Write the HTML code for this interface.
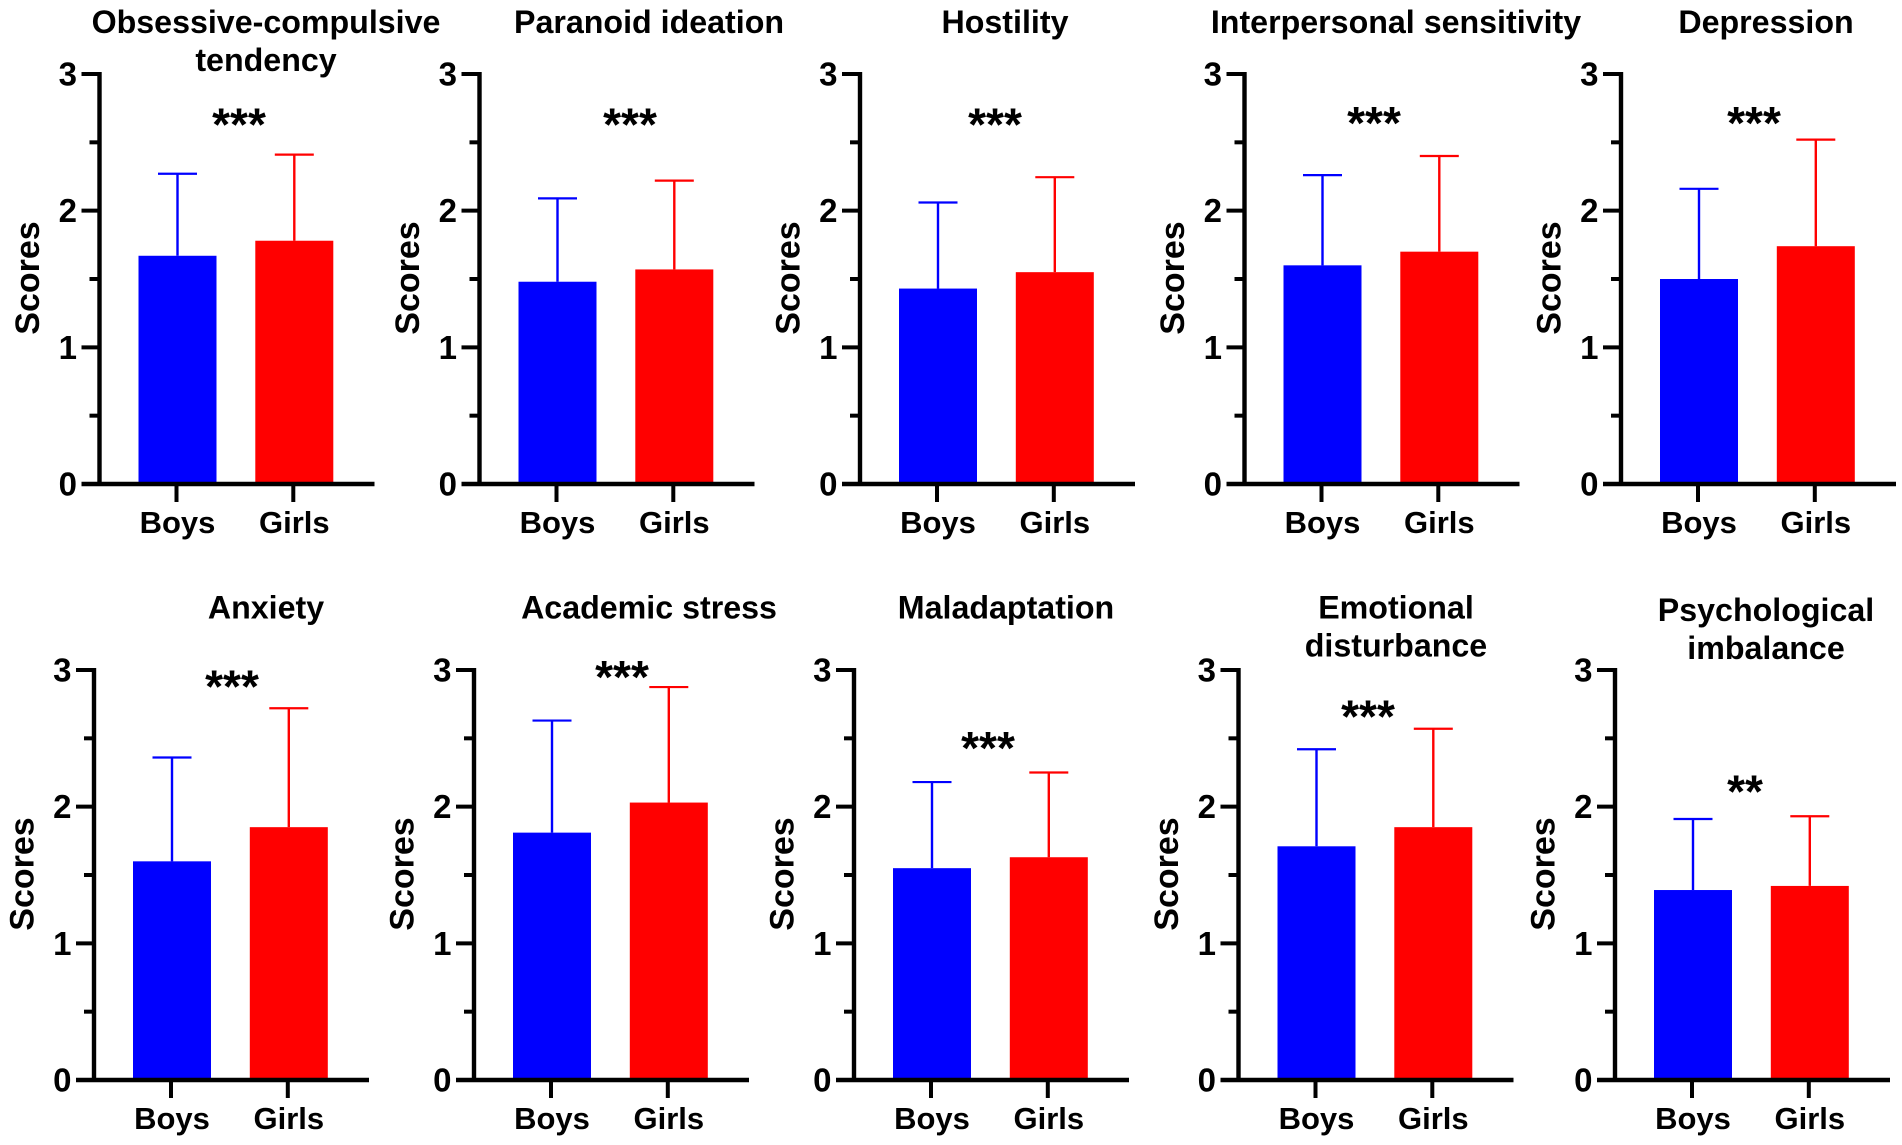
<!DOCTYPE html>
<html lang="en">
<head>
<meta charset="utf-8">
<title>Scores by gender across ten dimensions</title>
<style>
html,body{margin:0;padding:0;background:#fff;width:1902px;height:1145px;overflow:hidden}
svg{display:block;font-family:"Liberation Sans",Arial,sans-serif;font-weight:bold}
</style>
</head>
<body>
<svg id="chart" width="1902" height="1145" viewBox="0 0 1902 1145" xmlns="http://www.w3.org/2000/svg"></svg>
<script>
const panelTitles = [
  ["Obsessive-compulsive","tendency"],["Paranoid ideation"],["Hostility"],["Interpersonal sensitivity"],["Depression"],
  ["Anxiety"],["Academic stress"],["Maladaptation"],["Emotional","disturbance"],["Psychological","imbalance"]
];
const categories = ["Boys","Girls"];
const boysMean  = [1.67,1.48,1.43,1.60,1.50,1.60,1.81,1.55,1.71,1.39];
const boysSD    = [0.60,0.61,0.63,0.66,0.66,0.76,0.82,0.63,0.71,0.52];
const girlsMean = [1.78,1.57,1.55,1.70,1.74,1.85,2.03,1.63,1.85,1.42];
const girlsSD   = [0.63,0.65,0.695,0.70,0.78,0.87,0.845,0.62,0.72,0.51];
const significance = ["***","***","***","***","***","***","***","***","***","**"];
const significanceLevel = [2.67,2.67,2.67,2.68,2.68,2.92,2.99,2.47,2.70,2.15];
const yTickLabels = [0,1,2,3];
const yMinorTicks = [0.5,1.5,2.5];
const yMax = 3;

/* panel placement (layout, not data) */
const layoutAxisX = [99.5,479.5,860,1244.5,1621,94,474,854,1238.5,1615];
const layoutTitleX = [266,649,1005,1396,1766,266,649,1006,1396,1766];
const layoutStarX = [239,630,995,1374,1754,232,622,988,1368,1745];
const layoutTitleY = [33,33,33,33,33,618.5,618.5,618.5,618.5,621];
const layoutBaseY = [484,484,484,484,484,1080,1080,1080,1080,1080];
const plotHeight = 410;

const svg = document.getElementById('chart');
const NS = 'http://www.w3.org/2000/svg';
function add(parent, tag, name, props) {
  const el = document.createElementNS(NS, tag);
  
  
  for (const k in props) el.setAttribute(k, props[k]);
  parent.appendChild(el);
  return el;
}
function seg(parent, name, x1, y1, x2, y2, color, w) {
  return add(parent, 'line', name, {x1, y1, x2, y2, stroke: color, 'stroke-width': w});
}
function label(parent, name, str, x, y, size, anchor, extra) {
  const t = add(parent, 'text', name, Object.assign({x, y, 'font-size': size, 'text-anchor': anchor, fill: '#000'}, extra || {}));
  t.textContent = str;
  return t;
}

const means = [boysMean, girlsMean];
const sds = [boysSD, girlsSD];
const colors = ['#0000ff', '#ff0000'];
const barWidth = 78, barOffset = 39, barStep = 116.8, capHalf = 19.5;

panelTitles.forEach((lines, i) => {
  const ax = layoutAxisX[i], y0 = layoutBaseY[i];
  const yScale = v => y0 - (v / yMax) * plotHeight;
  const xBand = c => ax + barOffset + c * barStep;
  const g = add(svg, 'g', 'panel-' + (i + 1), {});

  lines.forEach((ln, k) => {
    label(g, 'panel-title', ln, layoutTitleX[i], layoutTitleY[i] + k * 38, 32.2, 'middle');
  });

  categories.forEach((cat, c) => {
    const m = means[c][i], top = m + sds[c][i];
    const cx = xBand(c) + barWidth / 2;
    seg(g, 'error-bar-' + cat.toLowerCase(), cx, yScale(m), cx, yScale(top), colors[c], 2.4);
    seg(g, 'error-cap-' + cat.toLowerCase(), cx - capHalf, yScale(top), cx + capHalf, yScale(top), colors[c], 2.2);
    add(g, 'rect', 'bar-' + cat.toLowerCase(), {x: xBand(c), y: yScale(m), width: barWidth, height: yScale(0) - yScale(m), fill: colors[c]});
    seg(g, 'x-tick', cx - 1, y0, cx - 1, y0 + 18, '#000', 4);
    label(g, 'x-tick-label', cat, cx, y0 + 49, 31, 'middle');
  });

  yMinorTicks.forEach(v => {
    seg(g, 'y-minor-tick', ax - 10, yScale(v), ax, yScale(v), '#000', 4);
  });
  yTickLabels.forEach(v => {
    seg(g, 'y-tick', ax - 18, yScale(v), ax, yScale(v), '#000', 4);
    label(g, 'y-tick-label', String(v), ax - 22.5, yScale(v) + 11.5, 33, 'end');
  });
  seg(g, 'y-axis', ax, yScale(yMax) - 2, ax, y0 + 2, '#000', 4.4);
  seg(g, 'x-axis', ax - 18, y0, ax + 275, y0, '#000', 4.4);

  const midY = yScale(1.5) - 1;
  const tx = ax - 60.5;
  label(g, 'y-axis-title', 'Scores', tx, midY, 34, 'middle', {transform: 'rotate(-90 ' + tx + ' ' + midY + ')'});

  label(g, 'significance-marker', significance[i], layoutStarX[i], yScale(significanceLevel[i]) + 21.5, 46, 'middle');
});
</script>
</body>
</html>
